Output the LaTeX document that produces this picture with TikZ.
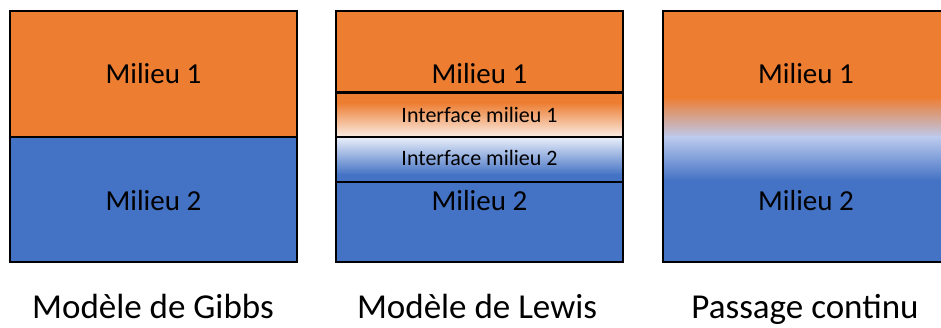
\documentclass[tikz,border=0pt]{standalone}
\usepackage{fontspec}
\setmainfont{Carlito}
\usepackage{tikz}

\definecolor{orng}{RGB}{237,125,49}
\definecolor{blu}{RGB}{68,114,196}
\definecolor{lav}{RGB}{188,202,238}
\definecolor{peach}{RGB}{251,238,230}
\definecolor{pale}{RGB}{236,241,251}
\newcommand{\milfont}{\fontsize{29}{33}\selectfont}
\newcommand{\intfont}{\fontsize{22}{26}\selectfont}
\newcommand{\capfont}{\fontsize{35}{40}\selectfont}

\begin{document}
\begin{tikzpicture}[x=1pt,y=1pt, inner sep=0pt, line width=2.2pt]
\useasboundingbox (0,0) rectangle (941,328);
% Gibbs
\fill[orng] (10,317) rectangle (297,191);
\fill[blu] (10,191) rectangle (297,66);
\draw (10,191) -- (297,191);
\draw (10,317) rectangle (297,66);
\node (g1) at (153.5,244) [anchor=base, font=\milfont] {Milieu 1};
\node (g2) at (153.5,117) [anchor=base, font=\milfont] {Milieu 2};
\node (gibbs) at (153,9) [anchor=base, font=\capfont] {Modèle de Gibbs};
% Lewis
\fill[orng] (336,317) rectangle (623,235);
\fill[orng] (336,236) rectangle (623,225);
\shade[top color=orng, bottom color=peach] (336,225.5) rectangle (623,191);
\shade[top color=pale, bottom color=blu] (336,191.5) rectangle (623,153);
\fill[blu] (336,153.5) rectangle (623,66);
\draw (336,235.5) -- (623,235.5);
\draw (336,191.3) -- (623,191.3);
\draw (336,146) -- (623,146);
\draw (336,317) rectangle (623,66);
\node (l1) at (479.5,244) [anchor=base, font=\milfont] {Milieu 1};
\node (li1) at (479.5,205) [anchor=base, font=\intfont] {Interface milieu 1};
\node (li2) at (479.5,162) [anchor=base, font=\intfont] {Interface milieu 2};
\node (l2) at (479.5,117) [anchor=base, font=\milfont] {Milieu 2};
\node (lewis) at (477,9) [anchor=base, font=\capfont] {Modèle de Lewis};
% continu
\fill[orng] (663,317) rectangle (952,230.5);
\shade[top color=orng, bottom color=lav] (663,231) rectangle (952,190.5);
\shade[top color=lav, bottom color=blu] (663,191) rectangle (952,147.5);
\fill[blu] (663,148) rectangle (952,66);
\draw (952,317) -- (663,317) -- (663,66) -- (952,66);
\node (c1) at (806,244) [anchor=base, font=\milfont] {Milieu 1};
\node (c2) at (806,117) [anchor=base, font=\milfont] {Milieu 2};
\node (continu) at (805,9) [anchor=base, font=\capfont] {Passage continu};
\end{tikzpicture}
\end{document}
